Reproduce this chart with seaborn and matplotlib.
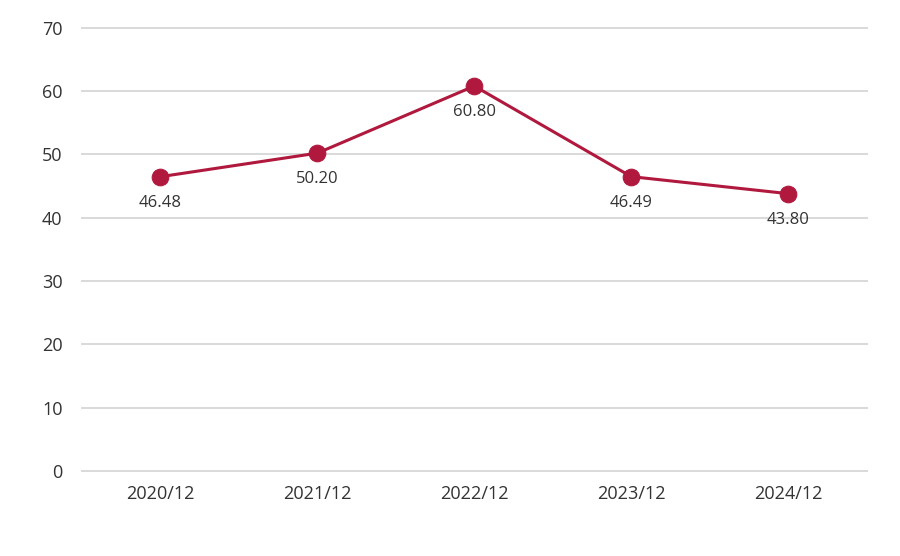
import matplotlib
matplotlib.use("Agg")
import matplotlib.pyplot as plt
import seaborn as sns
import pandas as pd

periods = ["2020/12", "2021/12", "2022/12", "2023/12", "2024/12"]
values = [46.48, 50.20, 60.80, 46.49, 43.80]
y_ticks = [0, 10, 20, 30, 40, 50, 60, 70]

color = "#B0183D"
plt.rcParams["font.family"] = "Open Sans"

df = pd.DataFrame({"period": periods, "value": values})

fig = plt.figure(figsize=(9, 5.56), dpi=100)
ax = fig.add_axes([0.091, 0.153, 0.872, 0.797])
sns.lineplot(data=df, x="period", y="value", ax=ax, color=color, linewidth=2.2,
             marker="o", markersize=12, markeredgecolor=color, sort=False)

for i, v in enumerate(values):
    ax.annotate(f"{v:.2f}", (i, v), xytext=(0, -13), textcoords="offset points",
                ha="center", va="top", fontsize=12, color="#333333")

ax.set_xlim(-0.5, len(periods) - 0.5)
ax.set_ylim(0, 70)
ax.set_yticks(y_ticks)
ax.grid(axis="y", color="#d9d9d9", linewidth=1.4)
for gl in ax.get_ygridlines():
    gl.set_clip_on(False)
ax.set_axisbelow(True)
for s in ax.spines.values():
    s.set_visible(False)
ax.tick_params(length=0, labelsize=13, colors="#333333")
ax.tick_params(axis="x", pad=10)
ax.tick_params(axis="y", pad=14)
ax.set_xlabel("")
ax.set_ylabel("")

fig.savefig("out.png", dpi=100)
